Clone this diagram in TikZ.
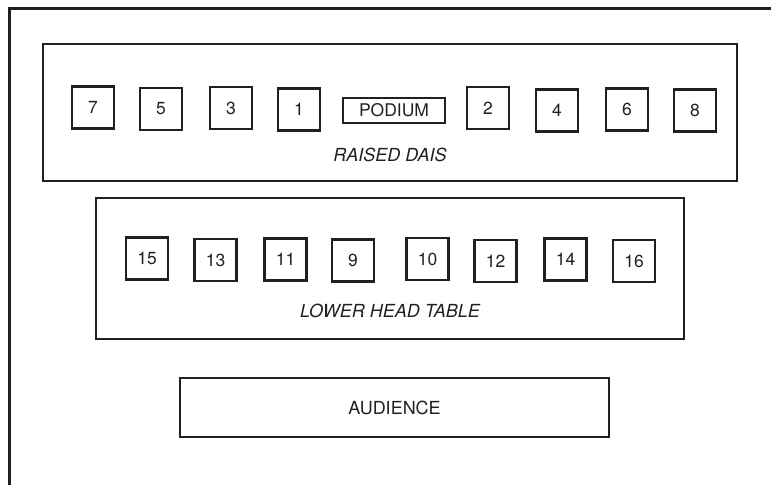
\documentclass[tikz,border=0pt]{standalone}
\usepackage{fontspec}
\setmainfont{TeX Gyre Heros}
\begin{document}
\begin{tikzpicture}[x=1pt,y=-1pt,
    seat/.style={draw=ink,line width=2.4pt,minimum width=42pt,minimum height=42pt,inner sep=0pt,text=ink,font=\fontsize{17.5}{20}\selectfont},
    tablebox/.style={draw=ink,line width=2pt,inner sep=0pt},
    tablelabel/.style={text=ink,font=\fontsize{18}{21}\selectfont\itshape}]
            % Define colors
            \definecolor{ink}{RGB}{35,31,32}

            \useasboundingbox (0,0) rectangle (771,485);

            % Draw the hall frame
            \draw[ink,line width=3pt] (9,485) -- (9,8) -- (771,8);

            % Draw the raised dais
            \node[tablebox,minimum width=694pt,minimum height=137pt] (dais) at (390,112.5) {};
            \node[tablelabel] (daislabel) at (390,154.5) {RAISED DAIS};

            % Seats on the dais
            \node[seat] (s7) at (93,107.5) {7};
            \node[seat] (s5) at (161,109) {5};
            \node[seat] (s3) at (231,108) {3};
            \node[seat] (s1) at (299,109.5) {1};
            \node[seat,line width=2pt,minimum width=102pt,minimum height=25pt] (podium) at (394,110.5) {PODIUM};
            \node[seat] (s2) at (488,108) {2};
            \node[seat] (s4) at (557,110.5) {4};
            \node[seat] (s6) at (627,109.5) {6};
            \node[seat] (s8) at (695,110.5) {8};

            % Draw the lower head table
            \node[tablebox,minimum width=588pt,minimum height=141pt] (headtable) at (390,268.5) {};
            \node[tablelabel] (headlabel) at (390,311) {LOWER HEAD TABLE};

            % Seats at the head table
            \node[seat] (s15) at (147,258.5) {15};
            \node[seat] (s13) at (215.5,260) {13};
            \node[seat] (s11) at (285.5,259.5) {11};
            \node[seat] (s9) at (353,260.5) {9};
            \node[seat] (s10) at (427.5,259) {10};
            \node[seat] (s12) at (495.5,261) {12};
            \node[seat] (s14) at (565.5,259.5) {14};
            \node[seat] (s16) at (634,261) {16};

            % Draw the audience
            \node[tablebox,minimum width=429pt,minimum height=59pt,text=ink,font=\fontsize{18}{21}\selectfont] (audience) at (394.5,407.5) {AUDIENCE};
        \end{tikzpicture}
\end{document}
